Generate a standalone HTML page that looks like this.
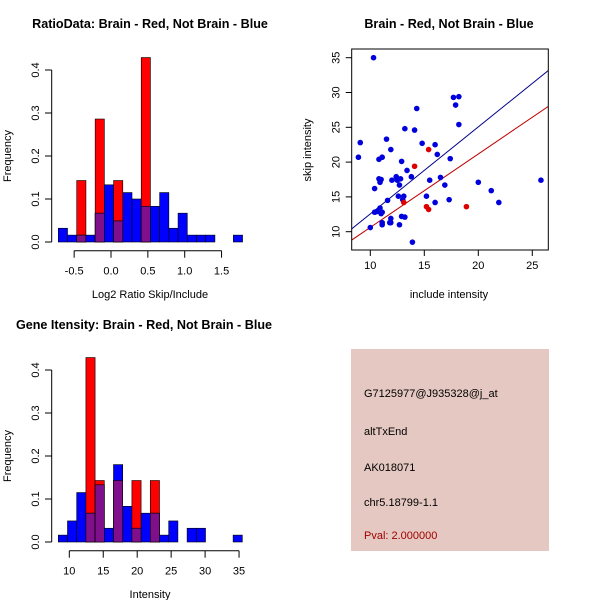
<!DOCTYPE html>
<html><head><meta charset="utf-8"><style>
body{margin:0;background:#fff}
svg{display:block;font-family:"Liberation Sans",sans-serif}
</style></head><body>
<svg id="s" width="600" height="600" viewBox="0 0 600 600">
<rect width="600" height="600" fill="#fff"/>
<text x="150" y="28" text-anchor="middle" font-size="12.6" font-weight="bold">RatioData: Brain - Red, Not Brain - Blue</text>
<text x="449" y="28" text-anchor="middle" font-size="12.6" font-weight="bold">Brain - Red, Not Brain - Blue</text>
<text x="144" y="329" text-anchor="middle" font-size="12.6" font-weight="bold">Gene Itensity: Brain - Red, Not Brain - Blue</text>
<g>
<rect x="351" y="349" width="198" height="202" fill="#e5c8c1"/>
<text x="364" y="397" font-size="11">G7125977@J935328@j_at</text>
<text x="364" y="435" font-size="11">altTxEnd</text>
<text x="364" y="471" font-size="11">AK018071</text>
<text x="364" y="506" font-size="11">chr5.18799-1.1</text>
<text x="364" y="539" font-size="11" fill="#a00000">Pval: 2.000000</text>
</g>
</svg>
<script>
// Ratio histogram data
const ratioStart = -0.715, ratioWidth = 0.125;
const ratioBlue = [0.032,0.016,0.016,0.016,0.067,0.133,0.049,0.115,0.1,0.083,0.083,0.115,0.032,0.067,0.016,0.016,0.016,0,0,0.016];
const ratioRed  = [0,0,0.143,0,0.286,0,0.143,0,0,0.429,0,0,0,0,0,0,0,0,0,0];
const ratioXTicks = [-0.5,0,0.5,1,1.5];
const ratioXLabels = ["-0.5","0.0","0.5","1.0","1.5"];
// Intensity histogram data
const intStart = 8.38, intWidth = 1.355;
const intBlue = [0.016,0.049,0.115,0.067,0.133,0.032,0.18,0.083,0.032,0.067,0.067,0.016,0.049,0,0.032,0.032,0,0,0,0.016];
const intRed  = [0,0,0,0.429,0.143,0,0.143,0,0.143,0,0.143,0,0,0,0,0,0,0,0,0];
const intXTicks = [10,15,20,25,30,35];
const freqTicks = [0,0.1,0.2,0.3,0.4];
const freqLabels = ["0.0","0.1","0.2","0.3","0.4"];
// Scatter data
const blueX = [10.3,9.07,8.9,11.5,10.8,11.1,11.9,14.3,13.2,14.1,14.8,16.0,16.2,17.4,17.7,18.2,17.9,18.2,12.9,13.4,13.8,12.4,12.0,12.8,12.5,10.8,11.0,10.9,12.7,10.4,15.5,16.5,16.9,20.0,21.2,25.8,21.9,17.3,16.0,15.2,12.6,13.1,11.6,10.4,10.6,10.9,11.0,11.1,12.9,13.2,11.1,11.1,11.9,11.8,11.9,12.7,10.0,13.9,13.0];
const blueY = [35.0,22.8,20.7,23.3,20.4,20.7,21.8,27.7,24.8,24.6,22.7,22.5,21.1,20.5,29.3,29.4,28.2,25.4,20.1,18.8,17.9,17.9,17.4,17.6,17.4,17.6,17.5,17.1,16.7,16.2,17.4,17.8,16.7,17.1,15.9,17.4,14.2,14.6,14.2,15.1,15.1,15.1,14.5,12.8,12.9,13.4,12.6,12.8,12.2,12.1,11.3,11.0,11.9,11.3,11.3,11.0,10.6,8.5,14.6];
const redX = [15.4,14.1,13.1,15.2,15.4,18.9];
const redY = [21.8,19.4,14.2,13.6,13.2,13.6];
const blueFit = [0.06,1.25];
const redFit = [0.07,1.055];
const scXTicks = [10,15,20,25];
const scYTicks = [10,15,20,25,30,35];

const svg = document.getElementById('s');
const NS = 'http://www.w3.org/2000/svg';
function mk(tag, attrs, parent){const e=document.createElementNS(NS,tag);for(const k in attrs)e.setAttribute(k,attrs[k]);(parent||svg).appendChild(e);return e;}

function hist(name, x0, base, pxPerUnit, start, width, blue, red, xticks, xlabels, xlabel){
  const g = mk('g',{});
  
  
  const X = v => x0 + (v)*pxPerUnit;
  const Y = f => base - f*430;
  for(let i=0;i<blue.length;i++){
    const a = X(start+i*width), b = X(start+(i+1)*width);
    const bl = blue[i], rd = red[i], ov = Math.min(bl,rd);
    if(rd>0){const r=mk('rect',{x:a,y:Y(rd),width:b-a,height:rd*430,fill:'#ff0000',stroke:'#000','stroke-width':0.6},g);
      
      }
    if(bl>0){const r=mk('rect',{x:a,y:Y(bl),width:b-a,height:bl*430,fill:'#0000ff',stroke:'#000','stroke-width':0.6},g);
      
      }
    if(ov>0){const r=mk('rect',{x:a,y:Y(ov),width:b-a,height:ov*430,fill:'#7f0f8a',stroke:'#000','stroke-width':0.6},g);
      
      }
  }
  mk('line',{x1:51.7,x2:51.7,y1:Y(0),y2:Y(0.4),stroke:'#000'},g);
  freqTicks.forEach((t,i)=>{mk('line',{x1:45,x2:51.7,y1:Y(t),y2:Y(t),stroke:'#000'},g);
    const tx=mk('text',{x:0,y:0,'font-size':11,'text-anchor':'middle',transform:`translate(39,${Y(t)}) rotate(-90)`},g);tx.textContent=freqLabels[i];
    
    });
  const yl=mk('text',{'font-size':11,'text-anchor':'middle',transform:`translate(11,${Y(0.2)}) rotate(-90)`},g);yl.textContent='Frequency';
  
  
  const ay = base+8.7;
  mk('line',{x1:X(xticks[0]),x2:X(xticks[xticks.length-1]),y1:ay,y2:ay,stroke:'#000'},g);
  xticks.forEach((t,i)=>{mk('line',{x1:X(t),x2:X(t),y1:ay,y2:ay+7,stroke:'#000'},g);
    const tx=mk('text',{x:X(t),y:ay+24,'font-size':11,'text-anchor':'middle'},g);tx.textContent=xlabels[i];
    
    });
  const xl=mk('text',{x:150,y:base+56,'font-size':11,'text-anchor':'middle'},g);xl.textContent=xlabel;
  
  
}
hist('ratio-histogram', 111, 242, 73.7, ratioStart, ratioWidth, ratioBlue, ratioRed, ratioXTicks, ratioXLabels, 'Log2 Ratio Skip/Include');
hist('intensity-histogram', 69.3-10*6.79, 542, 6.79, intStart, intWidth, intBlue, intRed, intXTicks, intXTicks.map(String), 'Intensity');

(function(){
  const g = mk('g',{});
  
  
  const L=351.7,R=548.3,T=49,B=250;
  const SX = v => 370.3 + (v-10)*10.8;
  const SY = v => 231.7 - (v-10)*6.96;
  const xmin=(L-370.3)/10.8+10, xmax=(R-370.3)/10.8+10;
  const cp = mk('clipPath',{id:'cp'},g); mk('rect',{x:L,y:T,width:R-L,height:B-T},cp);
  const lg = mk('g',{'clip-path':'url(#cp)'},g);
  const bl=mk('line',{x1:SX(xmin),y1:SY(blueFit[0]+blueFit[1]*xmin),x2:SX(xmax),y2:SY(blueFit[0]+blueFit[1]*xmax),stroke:'#00008b'},lg);
  
  
  const rl=mk('line',{x1:SX(xmin),y1:SY(redFit[0]+redFit[1]*xmin),x2:SX(xmax),y2:SY(redFit[0]+redFit[1]*xmax),stroke:'#c00000'},lg);
  
  
  blueX.forEach((x,i)=>{const c=mk('circle',{cx:SX(x),cy:SY(blueY[i]),r:2.8,fill:'#0000dd'},g);
    
    });
  redX.forEach((x,i)=>{const c=mk('circle',{cx:SX(x),cy:SY(redY[i]),r:2.8,fill:'#dd0000'},g);
    
    });
  mk('rect',{x:L,y:T,width:R-L,height:B-T,fill:'none',stroke:'#000'},g);
  scXTicks.forEach(t=>{mk('line',{x1:SX(t),x2:SX(t),y1:B,y2:B+6,stroke:'#000'},g);
    const tx=mk('text',{x:SX(t),y:B+19,'font-size':11,'text-anchor':'middle'},g);tx.textContent=t;
    
    });
  scYTicks.forEach(t=>{mk('line',{x1:L-6,x2:L,y1:SY(t),y2:SY(t),stroke:'#000'},g);
    const tx=mk('text',{'font-size':11,'text-anchor':'middle',transform:`translate(${L-12},${SY(t)}) rotate(-90)`},g);tx.textContent=t;
    
    });
  const xl=mk('text',{x:449,y:298,'font-size':11,'text-anchor':'middle'},g);xl.textContent='include intensity';
  
  
  const yl=mk('text',{'font-size':11,'text-anchor':'middle',transform:'translate(311,150) rotate(-90)'},g);yl.textContent='skip intensity';
  
  
})();
</script>
</body></html>
